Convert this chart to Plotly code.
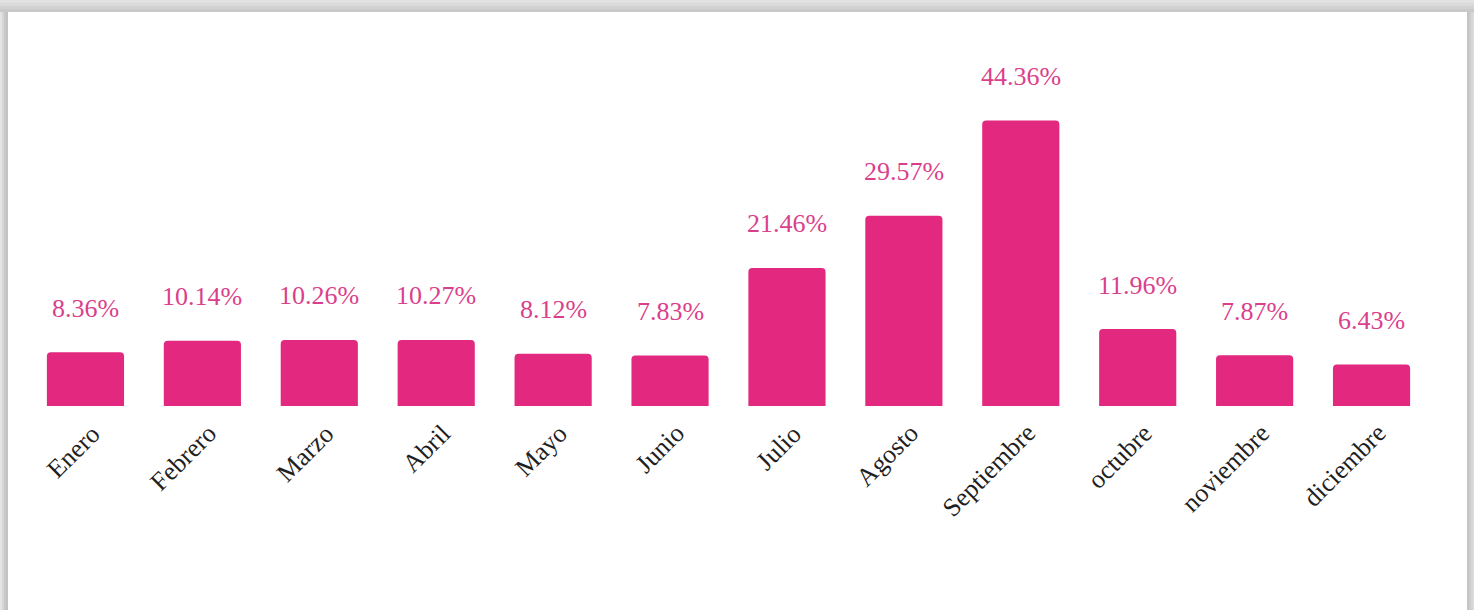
import plotly.graph_objects as go

months = ["Enero", "Febrero", "Marzo", "Abril", "Mayo", "Junio", "Julio",
          "Agosto", "Septiembre", "octubre", "noviembre", "diciembre"]
values = [8.36, 10.14, 10.26, 10.27, 8.12, 7.83, 21.46, 29.57, 44.36, 11.96, 7.87, 6.43]
labels = ["8.36%", "10.14%", "10.26%", "10.27%", "8.12%", "7.83%", "21.46%",
          "29.57%", "44.36%", "11.96%", "7.87%", "6.43%"]

BAR = "#E2297F"
TXT = "#DA3F8C"
FONT = "Liberation Serif, Times New Roman, serif"

W, H = 1474, 610
ML, MR, MT, MB = 27, 44, 52, 204
PW, PH = W - ML - MR, H - MT - MB

def px(p):
    return (p - ML) / PW

def py(q):
    return (H - MB - q) / PH

fig = go.Figure()
fig.add_trace(go.Bar(x=months, y=values, width=0.66, marker=dict(color=BAR, line=dict(width=0)),
                     hoverinfo="skip"))

for m, v, t in zip(months, values, labels):
    fig.add_annotation(x=m, y=v, text=t, showarrow=False, yshift=44,
                       font=dict(family=FONT, size=26, color=TXT))

# category labels, rotated, anchored at their upper-right end below each bar
for m in months:
    fig.add_annotation(x=m, y=0, text=m, showarrow=False, textangle=-45,
                       xanchor="right", yanchor="top", xshift=23, yshift=-10,
                       font=dict(family=FONT, size=26, color="#1f1f1f"))

shapes = []
# gray frame bands (gradient approximated with strips)
top_cols = ["#e2e2e2", "#dadada", "#d2d2d2", "#c9c9c9"]
for i, c in enumerate(top_cols):
    shapes.append(dict(type="rect", xref="paper", yref="paper", x0=px(0), x1=px(W),
                       y0=py(i * 3), y1=py(i * 3 + 3), fillcolor=c, line=dict(width=0), layer="below"))
left_cols = ["#e4e4e4", "#d6d6d6", "#c8c8c8", "#c2c2c2"]
for i, c in enumerate(left_cols):
    shapes.append(dict(type="rect", xref="paper", yref="paper", x0=px(i * 2), x1=px(i * 2 + 2),
                       y0=py(H), y1=py(12), fillcolor=c, line=dict(width=0), layer="below"))
right_cols = ["#c4c4c4", "#cdcdcd", "#d6d6d6", "#dedede"]
for i, c in enumerate(right_cols):
    shapes.append(dict(type="rect", xref="paper", yref="paper", x0=px(1467 + i * 2), x1=px(1469 + i * 2),
                       y0=py(H), y1=py(12), fillcolor=c, line=dict(width=0), layer="below"))

fig.update_layout(
    width=W, height=H,
    margin=dict(l=ML, r=MR, t=MT, b=MB),
    paper_bgcolor="white", plot_bgcolor="white",
    showlegend=False,
    barcornerradius=4,
    shapes=shapes,
    xaxis=dict(range=[-0.5, 11.5], showgrid=False, showline=False, zeroline=False,
               ticks="", showticklabels=False),
    yaxis=dict(range=[0, 55], visible=False, showgrid=False, zeroline=False),
)

fig.write_html("out.html", config={"displayModeBar": False},
               post_script="document.body.style.margin='0px';")
